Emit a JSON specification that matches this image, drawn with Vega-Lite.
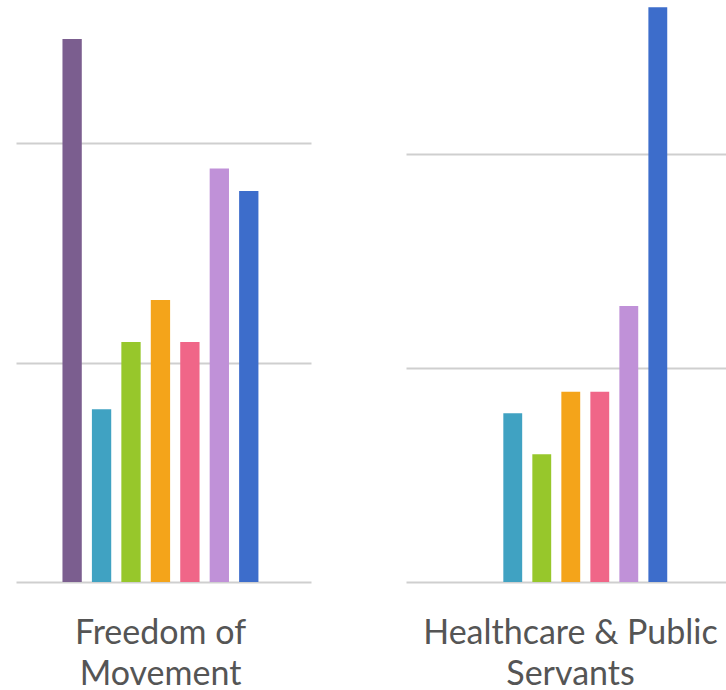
{
  "$schema": "https://vega.github.io/schema/vega-lite/v6.json",
  "padding": {"left": 16, "top": 0, "right": 0, "bottom": 0},
  "background": "white",
  "config": {
    "view": {"stroke": null},
    "font": "Lato",
    "axis": {
      "gridColor": "#cfcfcf",
      "gridWidth": 2,
      "titleFont": "Lato",
      "titleFontWeight": "normal",
      "titleColor": "#555555",
      "titleFontSize": 34,
      "titleLineHeight": 41.7,
      "titleBaseline": "alphabetic",
      "titlePadding": 61.3
    }
  },
  "datasets": {
    "bars": [
      {"panel": "Freedom of Movement", "group": "c1", "value": 24.76},
      {"panel": "Freedom of Movement", "group": "c2", "value": 7.88},
      {"panel": "Freedom of Movement", "group": "c3", "value": 10.94},
      {"panel": "Freedom of Movement", "group": "c4", "value": 12.86},
      {"panel": "Freedom of Movement", "group": "c5", "value": 10.94},
      {"panel": "Freedom of Movement", "group": "c6", "value": 18.86},
      {"panel": "Freedom of Movement", "group": "c7", "value": 17.83},
      {"panel": "Healthcare & Public Servants", "group": "c2", "value": 7.88},
      {"panel": "Healthcare & Public Servants", "group": "c3", "value": 5.96},
      {"panel": "Healthcare & Public Servants", "group": "c4", "value": 8.88},
      {"panel": "Healthcare & Public Servants", "group": "c5", "value": 8.88},
      {"panel": "Healthcare & Public Servants", "group": "c6", "value": 12.89},
      {"panel": "Healthcare & Public Servants", "group": "c7", "value": 26.83}
    ]
  },
  "data": {"name": "bars"},
  "spacing": 95,
  "hconcat": [
    {
      "width": 295,
      "height": 582,
      "transform": [{"filter": "datum.panel === 'Freedom of Movement'"}],
      "mark": {"type": "bar"},
      "encoding": {
        "x": {
          "field": "group",
          "type": "nominal",
          "scale": {"domain": ["p0","c1","c2","c3","c4","c5","c6","c7","p8"], "paddingInner": 0.344, "paddingOuter": 0.682, "align": 0.424, "round": false},
          "axis": {"labels": false, "ticks": false, "domain": false, "title": ["Freedom of", "Movement"], "titleX": 144}
        },
        "y": {
          "field": "value",
          "type": "quantitative",
          "scale": {"domain": [0, 26.54], "nice": false, "zero": true},
          "axis": {"labels": false, "ticks": false, "domain": false, "title": null, "values": [0, 10, 20], "grid": true}
        },
        "color": {
          "field": "group",
          "type": "nominal",
          "scale": {"domain": ["c1","c2","c3","c4","c5","c6","c7"], "range": ["#7b5e8f","#40a2c2","#97c72b","#f4a41a","#f06688","#c091d8","#3d6dcb"]},
          "legend": null
        }
      }
    },
    {
      "width": 320,
      "height": 582,
      "transform": [{"filter": "datum.panel === 'Healthcare & Public Servants'"}],
      "mark": {"type": "bar"},
      "encoding": {
        "x": {
          "field": "group",
          "type": "nominal",
          "scale": {"domain": ["p0","p1","c1","c2","c3","c4","c5","c6","c7","p8"], "paddingInner": 0.35, "paddingOuter": 0.69, "align": 0.257, "round": false},
          "axis": {"labels": false, "ticks": false, "domain": false, "title": ["Healthcare & Public", "Servants"], "titleX": 164}
        },
        "y": {
          "field": "value",
          "type": "quantitative",
          "scale": {"domain": [0, 27.17], "nice": false, "zero": true},
          "axis": {"labels": false, "ticks": false, "domain": false, "title": null, "values": [0, 10, 20], "grid": true}
        },
        "color": {
          "field": "group",
          "type": "nominal",
          "scale": {"domain": ["c1","c2","c3","c4","c5","c6","c7"], "range": ["#7b5e8f","#40a2c2","#97c72b","#f4a41a","#f06688","#c091d8","#3d6dcb"]},
          "legend": null
        }
      }
    }
  ],
  "resolve": {"scale": {"x": "independent", "y": "independent"}}
}
